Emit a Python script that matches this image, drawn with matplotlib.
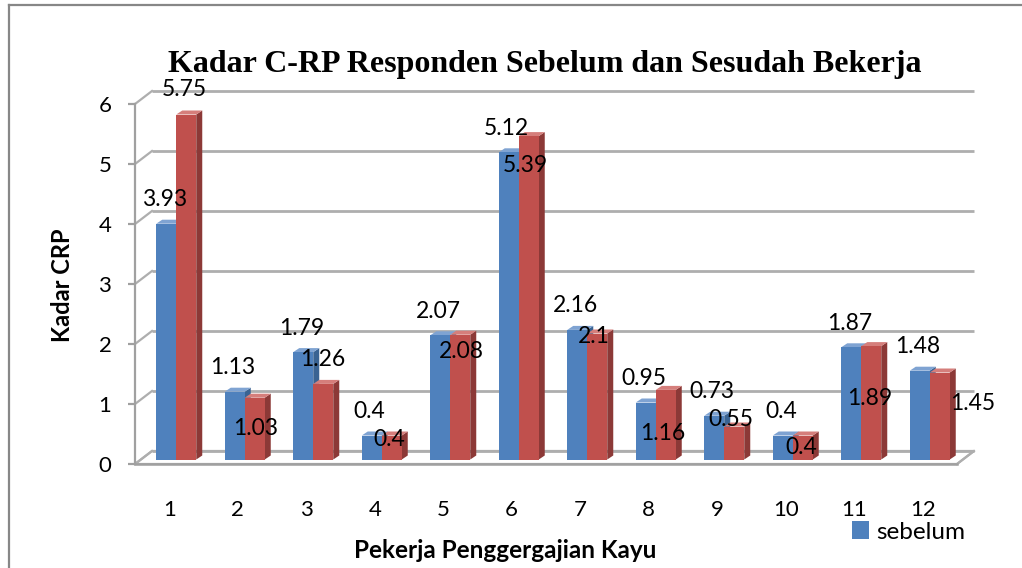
import matplotlib
matplotlib.use("Agg")
import matplotlib.pyplot as plt
from matplotlib.patches import Polygon, Patch
from matplotlib.lines import Line2D

# ---------------- data ----------------
workers = ["1", "2", "3", "4", "5", "6", "7", "8", "9", "10", "11", "12"]
sebelum = [3.93, 1.13, 1.79, 0.4, 2.07, 5.12, 2.16, 0.95, 0.73, 0.4, 1.87, 1.48]
sesudah = [5.75, 1.03, 1.26, 0.4, 2.08, 5.39, 2.1, 1.16, 0.55, 0.4, 1.89, 1.45]
y_ticks = [0, 1, 2, 3, 4, 5, 6]

title = "Kadar C-RP Responden Sebelum dan Sesudah Bekerja"
x_title = "Pekerja Penggergajian Kayu"
y_title = "Kadar CRP"
series_names = ["sebelum", "sesudah"]

# ---------------- style ----------------
W, H, DPI = 1022, 568, 100
BLUE, BLUE_TOP, BLUE_SIDE = "#4F81BD", "#7FA3D2", "#3A6392"
RED, RED_TOP, RED_SIDE = "#C0504D", "#D57E7B", "#8C3937"
GRID = "#AEAEAE"
NUM_FONT = ["Lato", "DejaVu Sans"]

# label text-centre offsets in pixels (dx, dy up), relative to the value point on the front plane
sebelum_label_offset = (-5, 30)
sesudah_label_offsets = [(15, 31), (18, -25), (16, 30), (14, 2), (18, -11), (14, -23),
                         (14, 3), (14, -38), (14, 13), (16, -6), (15, -46), (50, -25)]

fig = plt.figure(figsize=(W / DPI, H / DPI), dpi=DPI)
fig.patch.set_facecolor("white")

# front plane of the plot
AX_L, AX_R, AX_B, AX_T = 135, 957, 464, 104
ax = fig.add_axes([AX_L / W, (H - AX_B) / H, (AX_R - AX_L) / W, (AX_B - AX_T) / H])
n = len(workers)
ax.set_xlim(0.5, n + 0.5)
ax.set_ylim(y_ticks[0], y_ticks[-1])
ax.set_facecolor("none")

PX_X = (AX_R - AX_L) / n               # pixels per category
PX_Y = (AX_B - AX_T) / (y_ticks[-1] - y_ticks[0])  # pixels per unit

bdx, bdy = 17 / PX_X, 13 / PX_Y       # back-wall depth
mdx, mdy = 7 / PX_X, 4.5 / PX_Y       # bar plane
sdx, sdy = 6 / PX_X, 4 / PX_Y         # bar depth
bw = 20 / PX_X                        # bar width

x0, x1 = 0.5, n + 0.5

# floor
ax.add_patch(Polygon([(x0, 0), (x1, 0), (x1 + bdx, bdy), (x0 + bdx, bdy)], closed=True,
                     facecolor="white", edgecolor=GRID, lw=1.6, clip_on=False, zorder=1))
# back wall grid lines and side-wall diagonals
for y in y_ticks:
    ax.plot([x0 + bdx, x1 + bdx], [y + bdy, y + bdy], color=GRID, lw=2.0,
            solid_capstyle="butt", clip_on=False, zorder=1)
    ax.plot([x0, x0 + bdx], [y, y + bdy], color=GRID, lw=1.6, clip_on=False, zorder=1)
ax.plot([x1, x1 + bdx], [0, bdy], color=GRID, lw=1.6, clip_on=False, zorder=1)

for s in ["top", "right"]:
    ax.spines[s].set_visible(False)
ax.spines["left"].set_color("#A0A0A0")
ax.spines["left"].set_linewidth(1.6)
ax.spines["bottom"].set_color("#A0A0A0")
ax.spines["bottom"].set_linewidth(1.8)
ax.spines["bottom"].set_zorder(1)

ax.set_yticks(y_ticks)
ax.set_yticklabels([str(t) for t in y_ticks], fontsize=16, family=NUM_FONT)
ax.tick_params(axis="y", length=5, width=1.6, color="#A0A0A0", pad=12)
ax.set_xticks(range(1, n + 1))
ax.set_xticklabels(workers, fontsize=16, family=NUM_FONT)
ax.tick_params(axis="x", length=0, pad=26)


def bar3d(xl, v, top, side):
    b = mdy
    t = mdy + v
    xr = xl + bw
    ax.add_patch(Polygon([(xr, b), (xr, t), (xr + sdx, t + sdy), (xr + sdx, b + sdy)],
                         closed=True, facecolor=side, edgecolor="none", zorder=3, clip_on=False))
    ax.add_patch(Polygon([(xl, t), (xr, t), (xr + sdx, t + sdy), (xl + sdx, t + sdy)],
                         closed=True, facecolor=top, edgecolor="none", zorder=3, clip_on=False))


cats = list(range(1, n + 1))
for i, c in enumerate(cats):
    bar3d(c + mdx - bw, sebelum[i], BLUE_TOP, BLUE_SIDE)
    ax.bar(c + mdx - bw, sebelum[i], width=bw, bottom=mdy, align="edge", color=BLUE,
           zorder=3, clip_on=False)
    bar3d(c + mdx, sesudah[i], RED_TOP, RED_SIDE)
    ax.bar(c + mdx, sesudah[i], width=bw, bottom=mdy, align="edge", color=RED,
           zorder=3, clip_on=False)

HALF_CAP = 8
for i, c in enumerate(cats):
    dx, dy = sebelum_label_offset
    ax.annotate(f"{sebelum[i]:g}", (c, sebelum[i]), xytext=(dx, dy - HALF_CAP),
                textcoords="offset pixels", ha="center", va="baseline", fontsize=16.5,
                family=NUM_FONT, color="black", zorder=5, annotation_clip=False)
    dx, dy = sesudah_label_offsets[i]
    ax.annotate(f"{sesudah[i]:g}", (c, sesudah[i]), xytext=(dx, dy - HALF_CAP),
                textcoords="offset pixels", ha="center", va="baseline", fontsize=16.5,
                family=NUM_FONT, color="black", zorder=5, annotation_clip=False)

# titles
fig.text(545 / W, 1 - 72 / H, title, ha="center", va="baseline", fontsize=23,
         family="Liberation Serif", weight="bold")
fig.text(505 / W, 1 - 550 / H, x_title, ha="center", va="center", fontsize=17.5,
         family=NUM_FONT, weight="bold")
fig.text(62 / W, 1 - 285 / H, y_title, ha="center", va="center", fontsize=17,
         family=NUM_FONT, weight="bold", rotation=90)

# legend (only the first entry is visible in the reference)
leg = ax.legend(handles=[Patch(facecolor=BLUE, label=series_names[0])], loc="center left",
                bbox_to_anchor=(852 / W, 1 - 532 / H), bbox_transform=fig.transFigure,
                frameon=False, borderpad=0, borderaxespad=0,
                handlelength=0.7, handleheight=0.7, handletextpad=0.3,
                prop={"family": NUM_FONT, "size": 17.5})

# chart border (left and top visible)
fig.add_artist(Line2D([9 / W, 9 / W], [0, 1 - 5 / H], color="#878787", lw=1.6))
fig.add_artist(Line2D([9 / W, 1], [1 - 5 / H, 1 - 5 / H], color="#878787", lw=1.6))

fig.savefig("out.png", dpi=DPI, facecolor="white")
